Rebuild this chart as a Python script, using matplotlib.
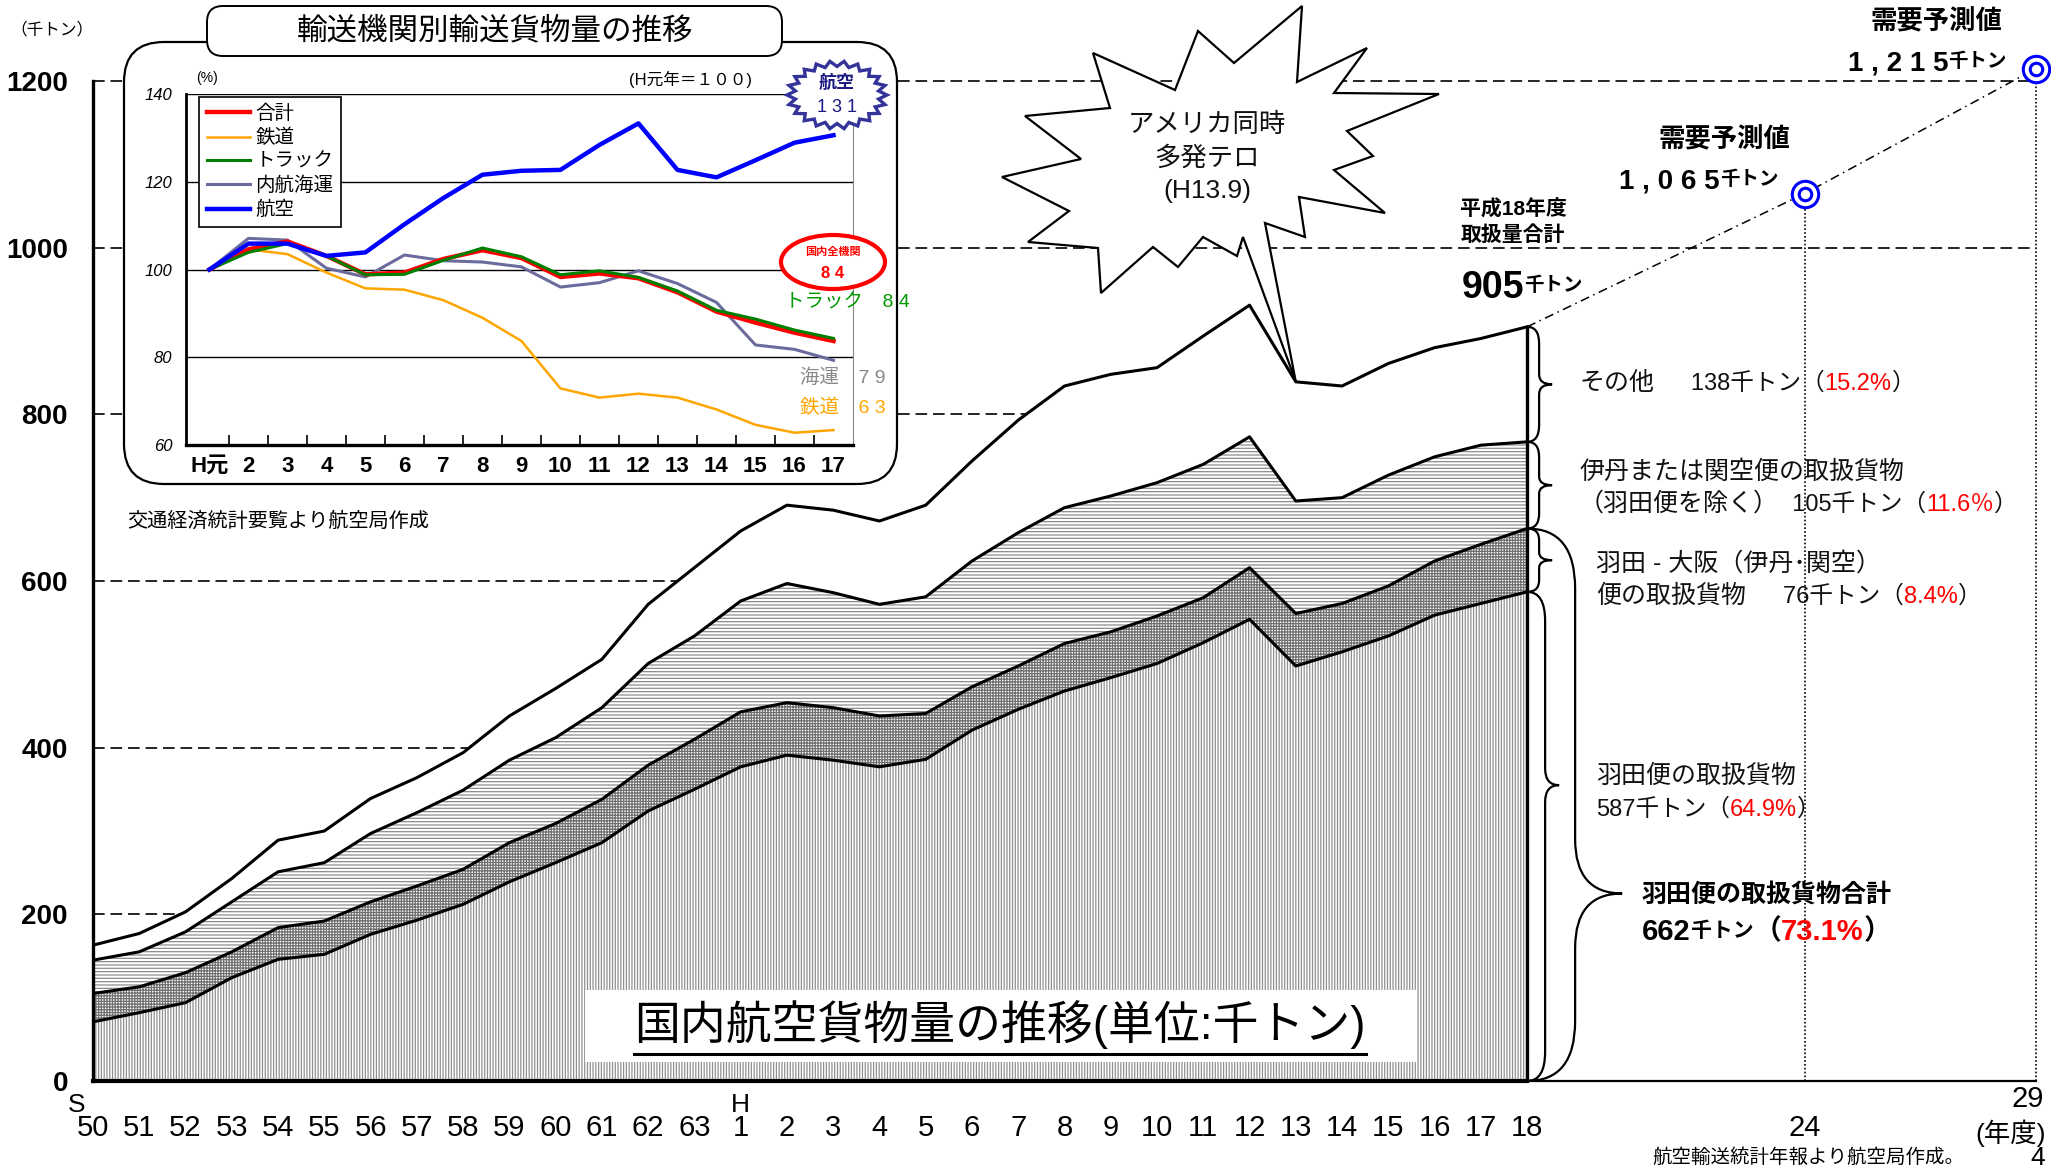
import numpy as np
import matplotlib
matplotlib.use('Agg')
import matplotlib.pyplot as plt
from matplotlib.patches import FancyBboxPatch, Polygon, Ellipse, Rectangle, PathPatch
from matplotlib.path import Path
from matplotlib.transforms import IdentityTransform, blended_transform_factory, offset_copy

plt.rcParams['font.family'] = ['Liberation Sans', 'Noto Sans CJK JP']
plt.rcParams['hatch.linewidth'] = 0.9

W, H = 2051, 1171
NARROW = ['Liberation Sans Narrow', 'Liberation Sans', 'Noto Sans CJK JP']

# 国内航空貨物量（千トン） S50 .. H18
year_labels = ['50', '51', '52', '53', '54', '55', '56', '57', '58', '59', '60', '61', '62', '63',
               '1', '2', '3', '4', '5', '6', '7', '8', '9', '10', '11', '12', '13', '14', '15',
               '16', '17', '18']
haneda = [71, 82, 94, 124, 146, 152, 176, 193, 212, 239, 262, 286, 324, 350,
          377, 391, 385, 377, 386, 421, 446, 468, 484, 501, 526, 554, 498, 515, 534, 559, 573, 587]
haneda_osaka = [105, 113, 130, 155, 184, 192, 215, 234, 254, 286, 309, 338, 379, 410,
                443, 454, 448, 438, 441, 473, 498, 525, 539, 558, 580, 616, 561, 573, 594, 624, 644, 663]
itami_kanku = [145, 155, 179, 215, 251, 262, 297, 322, 349, 385, 412, 448, 501, 534,
               576, 597, 586, 572, 581, 624, 658, 688, 702, 718, 740, 773, 696, 700, 727, 749, 763, 767]
total = [163, 177, 203, 243, 289, 300, 339, 364, 394, 438, 471, 506, 572, 616,
         660, 691, 685, 672, 691, 744, 793, 834, 848, 856, 894, 931, 839, 834, 861, 880, 891, 905]
forecast_labels = ['24', '29']
forecast_vals = [1065, 1215]

# 輸送機関別輸送貨物量（H元年=100）
inset_years = ['H元', '2', '3', '4', '5', '6', '7', '8', '9', '10', '11', '12', '13', '14', '15', '16', '17']
goukei = [100, 104.6, 106.4, 103.1, 98.9, 99.3, 102.4, 104.4, 102.6, 98.3, 99.1, 98.0, 94.8, 90.4, 87.9, 85.6, 83.7]
tetsudo = [100, 104.6, 103.5, 99.3, 95.7, 95.4, 93.0, 89.0, 83.7, 72.9, 70.8, 71.7, 70.8, 68.1, 64.6, 62.8, 63.4]
truck = [100, 103.9, 105.9, 103.1, 98.8, 98.9, 102.1, 104.9, 102.9, 98.8, 99.7, 98.2, 95.1, 90.7, 88.7, 86.2, 84.3]
kaiun = [100, 107.1, 106.7, 100.3, 98.3, 103.3, 102.0, 101.7, 100.6, 96.0, 97.0, 99.7, 96.8, 92.5, 82.8, 81.8, 79.3]
kouku = [100, 105.9, 105.9, 103.1, 103.9, 110.3, 116.3, 121.6, 122.5, 122.7, 128.4, 133.3, 122.7, 121.0, 124.9, 128.9, 130.6]

fig = plt.figure(figsize=(W / 100, H / 100), dpi=100)
PX = IdentityTransform()


def px(x, y):
    return (x, H - y)


# ---------------- main chart ----------------
ax = fig.add_axes([93 / W, 1 - 1081 / H, (2036 - 93) / W, 1000 / H])
ax.set_xlim(0, 42)
ax.set_ylim(0, 1200)
ax.patch.set_alpha(0)
ax.spines['top'].set_visible(False)
ax.spines['right'].set_visible(False)
ax.spines['left'].set_linewidth(2.4)
ax.spines['bottom'].set_linewidth(3)
ax.spines['bottom'].set_bounds(0, len(year_labels) - 1)
ax.set_xticks(range(1, len(year_labels) - 1))
ax.tick_params(axis='x', direction='in', length=9, width=1.6, labelbottom=False)
ax.set_yticks(range(0, 1201, 200))
ax.tick_params(axis='y', length=0, pad=18, labelsize=20)
for lab in ax.get_yticklabels():
    lab.set_fontweight('bold')

x = np.arange(len(year_labels))
last = len(year_labels) - 1
fx = [last + int(l) - int(year_labels[-1]) for l in forecast_labels]

# dashed grid
for v in [200, 400, 600, 800]:
    ax.plot([0, last], [v, v], color='black', lw=1.2, dashes=(7, 3.5), zorder=1)
for v in [1000, 1200]:
    ax.plot([0, fx[-1]], [v, v], color='black', lw=1.2, dashes=(7, 3.5), zorder=1, clip_on=False)

ax.fill_between(x, 0, haneda, facecolor='white', edgecolor='#909090', hatch='||||||', lw=0, zorder=2)
ax.fill_between(x, haneda, haneda_osaka, facecolor='white', edgecolor='#707070', hatch='++++++', lw=0, zorder=2)
ax.fill_between(x, haneda_osaka, itami_kanku, facecolor='white', edgecolor='#8c8c8c', hatch='-----', lw=0, zorder=2)
ax.fill_between(x, itami_kanku, total, facecolor='white', lw=0, zorder=2)
for s in [haneda, haneda_osaka, itami_kanku, total]:
    ax.plot(x, s, color='black', lw=2.2, zorder=3)
ax.plot([last, last], [0, total[-1]], color='black', lw=2.4, zorder=3)
ax.plot([last - 1, fx[-1]], [0, 0], color='black', lw=1.6, zorder=3, clip_on=False)

# forecast
ax.plot([last] + fx, [total[-1]] + forecast_vals, color='black', lw=1.1,
        dashes=(6, 3, 1, 3), zorder=3, clip_on=False)
for xv, yv in zip(fx, forecast_vals):
    ax.plot([xv, xv], [0, yv], color='black', lw=1.2, dashes=(1, 1.3), zorder=3, clip_on=False)
    ax.plot(xv, yv, 'o', ms=19, mfc='white', mec='#0000ff', mew=2.2, zorder=5, clip_on=False)
    ax.plot(xv, yv, 'o', ms=9, mfc='none', mec='#0000ff', mew=2.2, zorder=5, clip_on=False)

# x labels
bt = blended_transform_factory(ax.transData, ax.transAxes)
for i, lab in enumerate(year_labels):
    ax.text(i, -0.047, lab, transform=bt, ha='center', va='center', fontsize=21, family=NARROW)
ax.text(fx[0], -0.047, forecast_labels[0], transform=bt, ha='center', va='center', fontsize=21, family=NARROW)
ax.text(fx[1], -0.018, forecast_labels[1], transform=offset_copy(bt, fig, x=-8, units='dots'),
        ha='center', va='center', fontsize=21, family=NARROW)
ax.text(-0.35, -0.024, 'S', transform=bt, ha='center', va='center', fontsize=19, family=NARROW)
ax.text(year_labels.index('1'), -0.024, 'H', transform=bt, ha='center', va='center', fontsize=19, family=NARROW)
fig.text(2046 / W, 1 - 1133 / H, '(年度)', ha='right', va='center', fontsize=19, family=NARROW)
fig.text(52 / W, 1 - 29 / H, '（千トン）', ha='center', va='center', fontsize=12)


# braces
def brace(x0, xm, xt, ylo, yhi, yt, r, rt):
    verts = [(x0, yhi), (xm, yhi), (xm, yhi - r), (xm, yt + rt), (xm, yt), (xt, yt),
             (xm, yt), (xm, yt - rt), (xm, ylo + r), (xm, ylo), (x0, ylo)]
    codes = [Path.MOVETO, Path.CURVE3, Path.CURVE3, Path.LINETO, Path.CURVE3, Path.CURVE3,
             Path.CURVE3, Path.CURVE3, Path.LINETO, Path.CURVE3, Path.CURVE3]
    ax.add_patch(PathPatch(Path(verts, codes), fc='none', ec='black', lw=1.6, zorder=4, clip_on=False))


u = 1 / 46.25
brace(last, last + 12 * u, last + 25 * u, itami_kanku[-1], total[-1], (itami_kanku[-1] + total[-1]) / 2, 20, 12)
brace(last, last + 12 * u, last + 25 * u, haneda_osaka[-1], itami_kanku[-1], (haneda_osaka[-1] + itami_kanku[-1]) / 2, 18, 10)
brace(last, last + 12 * u, last + 25 * u, haneda[-1], haneda_osaka[-1], (haneda[-1] + haneda_osaka[-1]) / 2, 14, 9)
brace(last, last + 18 * u, last + 32 * u, 0, haneda[-1], 355, 35, 20)
brace(last, last + 48 * u, last + 95 * u, 0, haneda_osaka[-1], 225, 72, 65)

renderer = fig.canvas.get_renderer()


def rich(x0, yc, parts, weight='normal'):
    for s, c, sz in parts:
        fam = NARROW if s.strip()[:1].isdigit() and sz > 20 else None
        kw = dict(family=fam) if fam else {}
        t = fig.text(x0 / W, 1 - (yc + 0.36 * sz * 1.389) / H, s, color=c, fontsize=sz,
                     fontweight=weight, ha='left', va='baseline', zorder=8, **kw)
        x0 += t.get_window_extent(renderer).width


K = '#111111'
R = '#ff0000'
rich(1579, 381, [('その他', K, 18), ('　  138千トン（', K, 17), ('15.2%', R, 17), ('）', K, 17)])
rich(1579, 470, [('伊丹または関空便の取扱貨物', K, 18)])
rich(1579, 502, [('（羽田便を除く）', K, 18), ('  105千トン（', K, 17), ('11.6％', R, 17), ('）', K, 17)])
rich(1596, 562, [('羽田 - 大阪（伊丹･関空）', K, 18)])
rich(1596, 594, [('便の取扱貨物', K, 18), ('　  76千トン（', K, 17), ('8.4%', R, 17), ('）', K, 17)])
rich(1596, 774, [('羽田便の取扱貨物', K, 18)])
rich(1596, 807, [('587千トン（', K, 17), ('64.9%', R, 17), ('）', K, 17)])
rich(1642, 893, [('羽田便の取扱貨物合計', 'black', 18)], weight='bold')
rich(1642, 929, [('662', 'black', 21), ('千トン', 'black', 15), ('（', 'black', 20), ('73.1%', R, 21),
                 ('）', 'black', 20)], weight='bold')

fig.text(1513 / W, 1 - 209 / H, '平成18年度', ha='center', va='center', fontsize=15, fontweight='bold')
fig.text(1513 / W, 1 - 235 / H, '取扱量合計', ha='center', va='center', fontsize=15, fontweight='bold')
rich(1462, 284, [('905', 'black', 27), ('千トン', 'black', 14)], weight='bold')
fig.text(1724 / W, 1 - 140 / H, '需要予測値', ha='center', va='center', fontsize=19, fontweight='bold')
rich(1619, 178, [('1 , 0 6 5', 'black', 20), ('千トン', 'black', 14)], weight='bold')
fig.text(1936 / W, 1 - 22 / H, '需要予測値', ha='center', va='center', fontsize=19, fontweight='bold')
rich(1848, 60, [('1 , 2 1 5', 'black', 20), ('千トン', 'black', 14)], weight='bold')

fig.text(1652 / W, 1 - 1158 / H, '航空輸送統計年報より航空局作成。', ha='left', va='center', fontsize=14)
fig.text(2038 / W, 1 - 1158 / H, '4', ha='center', va='center', fontsize=19, family=NARROW)

# main title
fig.add_artist(Rectangle(px(585, 1062), 832, 72, transform=PX, fc='white', ec='none', zorder=1))
tt = fig.text(1000 / W, 1 - 1025 / H, '国内航空貨物量の推移(単位:千トン)', ha='center', va='center',
              fontsize=33, zorder=1.5)
bb = tt.get_window_extent(renderer)
fig.add_artist(plt.Line2D([bb.x0, bb.x1], [H - 1054, H - 1054], transform=PX, color='black', lw=2.2, zorder=1.5))

# explosion
tip = ax.transData.transform((26, total[26]))
tip = (tip[0], H - tip[1])
star = [(1302, 6), (1297, 82), (1367, 48), (1334, 93), (1439, 94), (1347, 131), (1373, 156),
        (1334, 170), (1385, 213), (1299, 197), (1305, 237), (1265, 223), tip, (1243, 237),
        (1237, 256), (1203, 237), (1178, 267), (1153, 247), (1101, 293), (1098, 248), (1028, 242),
        (1069, 211), (1002, 177), (1081, 159), (1025, 116), (1110, 108), (1093, 53), (1175, 90),
        (1198, 31), (1234, 63)]
fig.add_artist(Polygon([px(a, b) for a, b in star], closed=True, transform=PX, fc='white', ec='black',
                       lw=1.6, zorder=1))
fig.text(1207 / W, 1 - 158 / H, 'アメリカ同時\n多発テロ\n(H13.9)', ha='center', va='center',
         fontsize=19, linespacing=1.45, color='#111111', zorder=1.5)

# ---------------- inset ----------------
fig.add_artist(FancyBboxPatch(px(124, 484), 897 - 124, 484 - 42, boxstyle='round,pad=0,rounding_size=40',
                              transform=PX, fc='white', ec='black', lw=1.6, zorder=2))
fig.add_artist(FancyBboxPatch(px(207, 56), 575, 50, boxstyle='round,pad=0,rounding_size=16',
                              transform=PX, fc='white', ec='black', lw=1.4, zorder=4))
fig.text(495 / W, 1 - 31 / H, '輸送機関別輸送貨物量の推移', ha='center', va='center', fontsize=22, zorder=5)

iax = fig.add_axes([186 / W, 1 - 445 / H, (853 - 186) / W, (445 - 94) / H], zorder=3)
iax.set_xlim(-0.6, 16.5)
iax.set_ylim(60, 140)
iax.spines['top'].set_visible(False)
iax.spines['right'].set_color('#888888')
iax.spines['right'].set_linewidth(0.8)
iax.spines['left'].set_linewidth(2)
iax.spines['bottom'].set_linewidth(2.4)
for v in [80, 100, 120, 140]:
    iax.axhline(v, color='black', lw=1, zorder=1)
ix = np.arange(len(inset_years))
l_kaiun, = iax.plot(ix, kaiun, color='#6b6b9e', lw=2.2, label='内航海運', zorder=2)
l_tetsu, = iax.plot(ix, tetsudo, color='#ffa500', lw=1.8, label='鉄道', zorder=2)
l_gou, = iax.plot(ix, goukei, color='#ff0000', lw=3.2, label='合計', zorder=3)
l_truck, = iax.plot(ix, truck, color='#008000', lw=2.2, label='トラック', zorder=3)
l_kouku, = iax.plot(ix, kouku, color='#0000ff', lw=3.2, label='航空', zorder=3)
leg = iax.legend(handles=[l_gou, l_tetsu, l_truck, l_kaiun, l_kouku], loc='upper left',
                 bbox_to_anchor=(0.0195, 0.991), borderaxespad=0, fontsize=14, handlelength=2.2,
                 handletextpad=0.3, labelspacing=0.3, borderpad=0.4, fancybox=False,
                 edgecolor='black', framealpha=1)
leg.get_frame().set_linewidth(1.2)
iax.set_xticks(ix)
iax.set_xticklabels(inset_years, fontsize=16, fontweight='bold')
iax.set_xticks(np.arange(0.5, 16, 1), minor=True)
iax.tick_params(axis='x', which='major', length=0, pad=8)
iax.tick_params(axis='x', which='minor', direction='in', length=7, width=1.2)
iax.set_yticks([60, 80, 100, 120, 140])
iax.set_yticklabels(['60', '80', '100', '120', '140'], fontsize=12, fontstyle='italic')
iax.tick_params(axis='y', length=0, pad=10)

fig.text(207 / W, 1 - 78 / H, '(%)', ha='center', va='center', fontsize=10, zorder=7)
fig.text(690 / W, 1 - 79 / H, '(H元年＝１００)', ha='center', va='center', fontsize=12, zorder=7)

# 航空 badge
cx, cy, rx, ry = 837, 95, 50, 34
ang = np.linspace(0, 2 * np.pi, 44, endpoint=False)
rad = np.where(np.arange(44) % 2 == 0, 1.0, 0.84)
badge = [px(cx + rx * r * np.cos(a), cy + ry * r * np.sin(a)) for a, r in zip(ang, rad)]
fig.add_artist(Polygon(badge, closed=True, transform=PX, fc='white', ec='#333399', lw=2.4, zorder=6))
fig.text(cx / W, 1 - 83 / H, '航空', ha='center', va='center', fontsize=13, fontweight='bold',
         color='#1a1a80', zorder=7)
fig.text(cx / W, 1 - 108 / H, '1 3 1', ha='center', va='center', fontsize=13, color='#1a1a80',
         family=NARROW, zorder=7)

fig.add_artist(Ellipse((833 / W, 1 - 262 / H), 104 / W, 54 / H, transform=fig.transFigure,
                       fc='white', ec='#ff0000', lw=3, zorder=6))
fig.text(833 / W, 1 - 252 / H, '国内全機関', ha='center', va='center', fontsize=8, fontweight='bold',
         color='#ff0000', zorder=7)
fig.text(833 / W, 1 - 273 / H, '8 4', ha='center', va='center', fontsize=12, fontweight='bold',
         color='#ff0000', zorder=7)
fig.text(785 / W, 1 - 303 / H, 'トラック　8 4', ha='left', va='center', fontsize=14, color='#009900', zorder=7)
fig.text(800 / W, 1 - 378 / H, '海運　7 9', ha='left', va='center', fontsize=14, color='#888888', zorder=7)
fig.text(800 / W, 1 - 408 / H, '鉄道　6 3', ha='left', va='center', fontsize=14, color='#ffa500', zorder=7)

fig.text(127 / W, 1 - 521 / H, '交通経済統計要覧より航空局作成', ha='left', va='center', fontsize=14.5)

fig.savefig('out.png', dpi=100, facecolor='white')
